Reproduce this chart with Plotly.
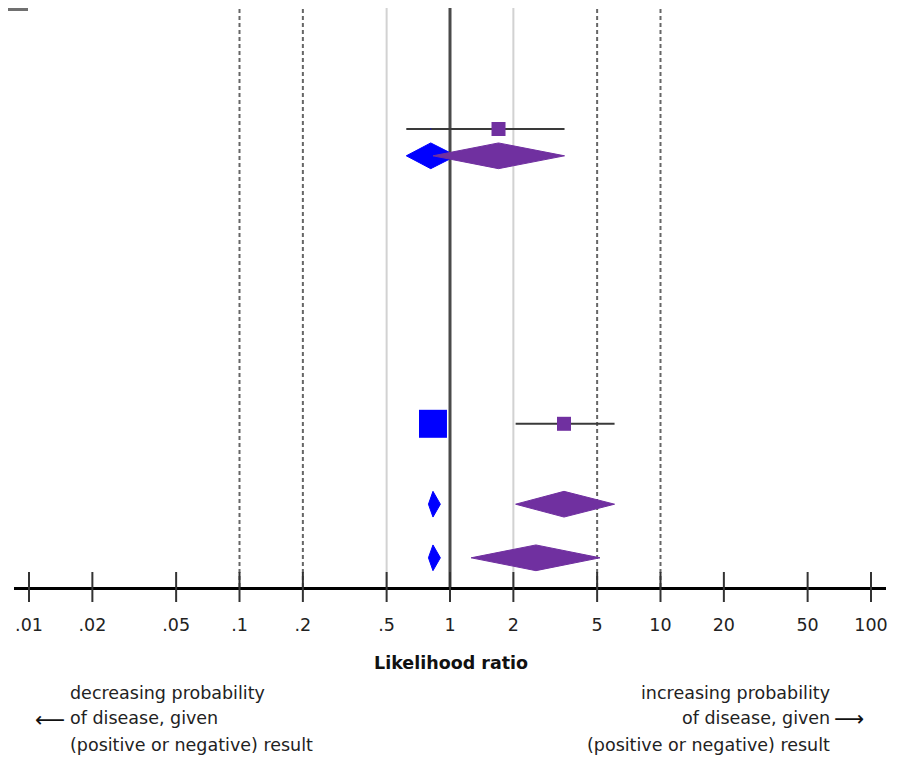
import math
import plotly.graph_objects as go

# ---------------- data ----------------
tick_vals = [0.01, 0.02, 0.05, 0.1, 0.2, 0.5, 1, 2, 5, 10, 20, 50, 100]
tick_text = [".01", ".02", ".05", ".1", ".2", ".5", "1", "2", "5", "10", "20", "50", "100"]

# row positions of the forest plot (row index from the top)
rows = [1, 2, 12, 15, 17]
row_kind = ["study", "pooled", "study", "pooled", "pooled"]

# negative likelihood ratio (blue)
neg_lr = [0.81, 0.81, 0.83, 0.83, 0.83]
neg_lo = [0.62, 0.62, 0.79, 0.79, 0.79]
neg_hi = [1.07, 1.07, 0.90, 0.90, 0.90]
neg_weight = [1, None, 28, None, None]

# positive likelihood ratio (purple)
pos_lr = [1.70, 1.70, 3.48, 3.48, 2.56]
pos_lo = [0.83, 0.83, 2.05, 2.05, 1.26]
pos_hi = [3.50, 3.50, 6.05, 6.05, 5.16]
pos_weight = [14, None, 14, None, None]

ref_dashed = [0.1, 0.2, 5, 10]
ref_light = [0.5, 2]
ref_null = 1

left_lines = ["decreasing probability", "of disease, given", "(positive or negative) result"]
right_lines = ["increasing probability", "of disease, given", "(positive or negative) result"]

BLUE = "#0000FF"
PURPLE = "#7030A0"
FONT = "DejaVu Sans"
FS = 17.5

# ---------------- layout geometry ----------------
# the page has an 8px body margin, so the figure starts at page (8, 8)
OFF = 8
W, H = 901 - OFF, 760 - OFF
ML, MR, MT = 6, 15, 0
PW = W - ML - MR            # 872
PH = 587 - OFF - MT         # 579 (axis line at page y 587)
MB = H - MT - PH
ROW_PX = 26.8
x_range = [math.log10(0.01) - 15 / 210.5, math.log10(100) + 15 / 210.5]
y_range = [1 + (587 - 129) / ROW_PX, 1 - (129 - OFF) / ROW_PX]  # reversed
DIAMOND_HALF = 0.48


def px_x(px):
    return (px - OFF - ML) / PW


def px_y(py):
    return 1 - (py - OFF - MT) / PH


fig = go.Figure()

shapes = []
for v in ref_light:
    shapes.append(dict(type="line", xref="x", yref="paper", x0=v, x1=v, y0=0, y1=1,
                       line=dict(color="#d2d2d2", width=2), layer="below"))
for v in ref_dashed:
    shapes.append(dict(type="line", xref="x", yref="paper", x0=v, x1=v, y0=0, y1=1,
                       line=dict(color="#666666", width=2, dash="4px,3px"), layer="below"))
shapes.append(dict(type="line", xref="x", yref="paper", x0=ref_null, x1=ref_null,
                   y0=0, y1=1, line=dict(color="#4a4a4a", width=3), layer="below"))
for v in tick_vals:
    shapes.append(dict(type="line", xref="x", yref="paper", x0=v, x1=v,
                       y0=-15 / PH, y1=15 / PH, line=dict(color="#333333", width=2),
                       layer="above"))
shapes.append(dict(type="line", xref="paper", yref="paper", x0=px_x(0), x1=px_x(28),
                   y0=px_y(9.5), y1=px_y(9.5), line=dict(color="#707070", width=3)))


def add_series(lr, lo, hi, weight, color, name):
    for r, kind, e, l, h, w in zip(rows, row_kind, lr, lo, hi, weight):
        if kind == "study":
            fig.add_trace(go.Scatter(
                x=[l, h], y=[r, r], mode="lines",
                line=dict(color="#3a3a3a", width=2), showlegend=False, hoverinfo="skip"))
            fig.add_trace(go.Scatter(
                x=[e], y=[r], mode="markers", name=name,
                marker=dict(symbol="square", size=w, color=color, line=dict(width=0)),
                showlegend=False))
        else:
            fig.add_trace(go.Scatter(
                x=[l, e, h, e, l],
                y=[r, r - DIAMOND_HALF, r, r + DIAMOND_HALF, r],
                mode="lines", fill="toself", fillcolor=color,
                line=dict(color=color, width=1), name=name, showlegend=False))


add_series(neg_lr, neg_lo, neg_hi, neg_weight, BLUE, "LR-")
add_series(pos_lr, pos_lo, pos_hi, pos_weight, PURPLE, "LR+")

annotations = []
annotations.append(dict(xref="paper", yref="paper", x=px_x(451), y=px_y(663),
                        xanchor="center", yanchor="middle", showarrow=False,
                        text="<b>Likelihood ratio</b>",
                        font=dict(family=FONT, size=FS, color="#111111")))

line_y = [693, 718, 745]
for t, yy in zip(left_lines, line_y):
    annotations.append(dict(xref="paper", yref="paper", x=px_x(68), y=px_y(yy),
                            xanchor="left", yanchor="middle", showarrow=False, text=t,
                            font=dict(family=FONT, size=FS, color="#222222")))
for t, yy in zip(right_lines, line_y):
    annotations.append(dict(xref="paper", yref="paper", x=px_x(832), y=px_y(yy),
                            xanchor="right", yanchor="middle", showarrow=False, text=t,
                            font=dict(family=FONT, size=FS, color="#222222")))
annotations.append(dict(xref="paper", yref="paper", x=px_x(50), y=px_y(720),
                        xanchor="center", yanchor="middle", showarrow=False, text="⟵",
                        font=dict(family=FONT, size=21, color="#111111")))
annotations.append(dict(xref="paper", yref="paper", x=px_x(849), y=px_y(719),
                        xanchor="center", yanchor="middle", showarrow=False, text="⟶",
                        font=dict(family=FONT, size=21, color="#111111")))

fig.update_layout(
    width=W, height=H,
    margin=dict(l=ML, r=MR, t=MT, b=MB),
    paper_bgcolor="white", plot_bgcolor="white",
    shapes=shapes, annotations=annotations,
    showlegend=False,
    xaxis=dict(type="log", range=x_range, tickvals=tick_vals, ticktext=tick_text,
               ticks="outside", ticklen=20, tickcolor="rgba(0,0,0,0)",
               showgrid=False, zeroline=False, showline=True, linecolor="#000000",
               linewidth=3, tickfont=dict(family=FONT, size=FS, color="#222222")),
    yaxis=dict(range=y_range, visible=False, showgrid=False, zeroline=False),
)

fig.write_html("out.html")
